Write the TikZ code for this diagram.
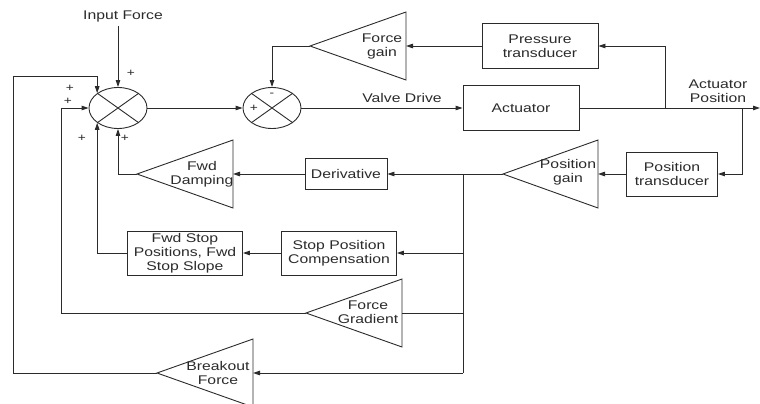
\documentclass[tikz,border=0pt]{standalone}
\usepackage{fontspec}
\setmainfont{Liberation Sans}[FakeStretch=1.25]
\usetikzlibrary{positioning,shapes.geometric,arrows.meta}
\definecolor{tratto}{HTML}{2B2B2B}

\begin{document}
\begin{tikzpicture}[x=1pt,y=-1pt,
		testo/.style={font=\fontsize{12.6}{14}\selectfont, text=tratto, align=center, inner sep=0pt},
		blocco/.style={testo, draw=tratto, line width=0.9pt},
		segno/.style={font=\fontsize{11}{11}\selectfont, text=tratto, inner sep=0pt},
		somma/.style={draw=tratto, line width=0.9pt, ellipse, minimum width=58pt, minimum height=41pt, inner sep=0pt},
		linea/.style={draw=tratto, line width=0.9pt},
		freccia/.style={linea, -{Triangle[length=7pt,width=4.5pt]}}]
	\useasboundingbox (0,0) rectangle (760,404);

	% Nodi sommatori
	\node[somma] (s1) at (118,108) {};
	\node[somma] (s2) at (272,108) {};
	\draw[linea] (s1.north west) -- (s1.south east);
	\draw[linea] (s1.south west) -- (s1.north east);
	\draw[linea] (s2.north west) -- (s2.south east);
	\draw[linea] (s2.south west) -- (s2.north east);

	% Blocchi rettangolari
	\node[blocco, minimum width=116pt, minimum height=45pt] (ptrans) at (540,46) {Pressure\\transducer};
	\node[blocco, minimum width=116pt, minimum height=45pt] (act) at (521,108) {Actuator};
	\node[blocco, minimum width=91pt, minimum height=44pt] (postr) at (672,174) {Position\\transducer};
	\node[blocco, minimum width=82pt, minimum height=31pt] (deriv) at (346,174) {Derivative};
	\node[blocco, minimum width=115pt, minimum height=44pt] (spc) at (339,253) {Stop Position\\Compensation};
	\node[blocco, minimum width=115pt, minimum height=44pt] (fstop) at (185,253) {Fwd Stop\\Positions, Fwd\\Stop Slope};

	% Guadagni (triangoli)
	\coordinate (fgtip) at (310,46);
	\coordinate (fgbase) at (406,46);
	\draw[linea] (fgtip) -- (406,12) -- (406,80) -- cycle;
	\node[testo] (fgain) at (382,46) {Force\\gain};

	\coordinate (pgtip) at (503,174);
	\coordinate (pgbase) at (598,174);
	\draw[linea] (pgtip) -- (598,140) -- (598,208) -- cycle;
	\node[testo] (pgain) at (568,172) {Position\\gain};

	\coordinate (fdtip) at (137,174);
	\coordinate (fdbase) at (233,174);
	\draw[linea] (fdtip) -- (233,140) -- (233,208) -- cycle;
	\node[testo] (fdamp) at (202,174) {Fwd\\Damping};

	\coordinate (grtip) at (306,313);
	\coordinate (grbase) at (402,313);
	\draw[linea] (grtip) -- (402,279) -- (402,347) -- cycle;
	\node[testo] (fgrad) at (368,312) {Force\\Gradient};

	\coordinate (bftip) at (157,373);
	\coordinate (bfbase) at (253,373);
	\draw[linea] (bftip) -- (253,339) -- (253,407) -- cycle;
	\node[testo] (bforce) at (218,373) {Breakout\\Force};

	% Etichette
	\node[testo] (inforce) at (123,16) {Input Force};
	\node[testo] (vdrive) at (402,98) {Valve Drive};
	\node[testo] (actpos) at (718,91) {Actuator\\Position};

	% Segni
	\node[segno] (p1) at (131,73) {+};
	\node[segno] (p2) at (70,88) {+};
	\node[segno] (p3) at (68,101) {+};
	\node[segno] (p4) at (82,138) {+};
	\node[segno] (p5) at (125,138) {+};
	\node[segno] (m1) at (272,95) {-};
	\node[segno] (p6) at (254,108) {+};

	% Punti di diramazione
	\coordinate (d1) at (665,108);
	\coordinate (d2) at (742,108);
	\coordinate (d3) at (463,174);
	\coordinate (uscita) at (760,108);

	% Collegamenti
	\draw[freccia] (inforce.south -| s1.north) ++(0,4) -- (s1.north);
	\draw[freccia] (s1.east) -- (s2.west);
	\draw[freccia] (fgtip) -| (s2.north);
	\draw[freccia] (ptrans.west) -- (fgbase);
	\draw[freccia] (s2.east) -- (act.west);
	\draw[freccia] (act.east) -- (uscita);
	\draw[freccia] (d1) |- (ptrans.east);
	\draw[freccia] (d2) |- (postr.east);
	\draw[freccia] (postr.west) -- (pgbase);
	\draw[freccia] (pgtip) -- (deriv.east);
	\draw[freccia] (deriv.west) -- (fdbase);
	\draw[freccia] (fdtip) -| (s1.south);
	\draw[linea] (d3) -- (d3 |- bfbase);
	\draw[freccia] (spc.east -| d3) -- (spc.east);
	\draw[freccia] (spc.west) -- (fstop.east);
	\draw[freccia] (fstop.west) -| (s1.south west);
	\draw[linea] (grbase -| d3) -- (grbase);
	\draw[freccia] (grtip) -| (61,108) -- (s1.west);
	\draw[freccia] (bfbase -| d3) -- (bfbase);
	\draw[freccia] (bftip) -| (13,76) -| (s1.north west);
\end{tikzpicture}
\end{document}
